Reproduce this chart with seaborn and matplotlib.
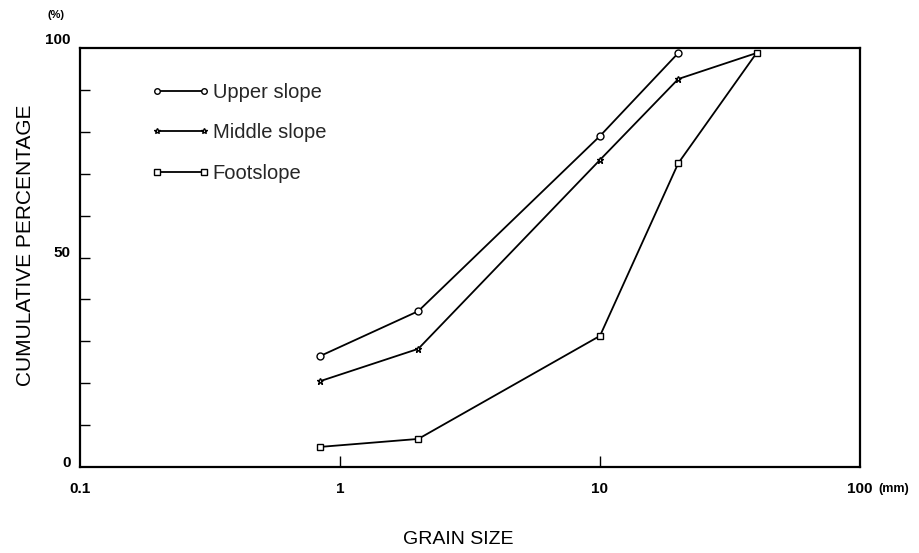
import matplotlib
matplotlib.use("Agg")
import matplotlib.pyplot as plt
import seaborn as sns
import pandas as pd
from matplotlib.ticker import FixedLocator, NullFormatter, NullLocator

# ---- data ----
upper_size = [0.84, 2, 10, 20]
upper_pct = [26.5, 37.2, 79.0, 98.8]
middle_size = [0.84, 2, 10, 20, 40]
middle_pct = [20.5, 28.2, 73.3, 92.6, 98.8]
foot_size = [0.84, 2, 10, 20, 40]
foot_pct = [4.8, 6.7, 31.3, 72.5, 98.8]
series_names = ["Upper slope", "Middle slope", "Footslope"]
x_tick_values = [0.1, 1, 10, 100]
x_tick_labels = ["0.1", "1", "10", "100"]
y_tick_values = [0, 50, 100]
y_tick_labels = ["0", "50", "100"]

df = pd.concat([
    pd.DataFrame({"size": upper_size, "pct": upper_pct, "series": series_names[0]}),
    pd.DataFrame({"size": middle_size, "pct": middle_pct, "series": series_names[1]}),
    pd.DataFrame({"size": foot_size, "pct": foot_pct, "series": series_names[2]}),
], ignore_index=True)

sns.set_theme(style="white")
plt.rcParams["font.family"] = ["Liberation Sans", "DejaVu Sans"]

fig = plt.figure(figsize=(9.2, 5.53), dpi=100)
ax = fig.add_axes([80 / 920, 1 - 467 / 553, 780 / 920, 419 / 553])

sns.lineplot(data=df, x="size", y="pct", hue="series", style="series",
             hue_order=series_names, style_order=series_names,
             palette=["black"] * 3, markers={"Upper slope": "o", "Middle slope": "*", "Footslope": "s"},
             dashes=False, sort=False, ax=ax, linewidth=1.3,
             markersize=5, markerfacecolor="white", markeredgecolor="black",
             markeredgewidth=1.0, legend=True, estimator=None)

ax.set_xscale("log")
ax.set_xlim(0.1, 100)
ax.set_ylim(0, 100)

for s in ax.spines.values():
    s.set_color("black")
    s.set_linewidth(1.6)

ax.xaxis.set_major_locator(FixedLocator([1, 10]))
ax.xaxis.set_minor_locator(NullLocator())
ax.xaxis.set_major_formatter(NullFormatter())
ax.tick_params(axis="x", which="major", direction="in", length=8, width=1, color="black", bottom=True)
ax.yaxis.set_major_locator(FixedLocator(list(range(10, 100, 10))))
ax.yaxis.set_major_formatter(NullFormatter())
ax.tick_params(axis="y", which="major", direction="in", length=7, width=1, color="black", left=True)

ax.set_xlabel("")
ax.set_ylabel("")

# tick labels
trans_x = ax.get_xaxis_transform()
for v, lab in zip(x_tick_values, x_tick_labels):
    ax.text(v, -0.053, lab, transform=trans_x, ha="center", va="center",
            fontsize=11, fontweight="bold", color="black")
ax.text(1.043, -0.053, "(mm)", transform=ax.transAxes, ha="center", va="center",
        fontsize=9, fontweight="bold", color="black")
trans_y = ax.get_yaxis_transform()
for v, lab in zip(y_tick_values, y_tick_labels):
    off = 2.0 if v == 100 else 1.0
    ax.text(-0.012, v + off, lab, transform=trans_y, ha="right", va="center",
            fontsize=11, fontweight="bold", color="black")
ax.text(-0.031, 1.079, "(%)", transform=ax.transAxes, ha="center", va="center",
        fontsize=8, fontweight="bold", color="black")

fig.text(458 / 920, 1 - 540 / 553, "GRAIN SIZE", ha="center", va="center", fontsize=14, color="black")
fig.text(26 / 920, 1 - 245 / 553, "CUMULATIVE PERCENTAGE", ha="center", va="center",
         rotation=90, fontsize=15, color="black")

handles, labels = ax.get_legend_handles_labels()
leg = ax.legend(handles, labels, loc="upper left", bbox_to_anchor=(0.068, 0.959),
                frameon=False, numpoints=2, handlelength=2.9, handletextpad=0.15,
                labelspacing=1.05, fontsize=14.5)
for h in leg.legend_handles:
    h.set_markersize(4)
    h.set_linewidth(1.3)

fig.savefig("out.png", dpi=100, facecolor="white")
